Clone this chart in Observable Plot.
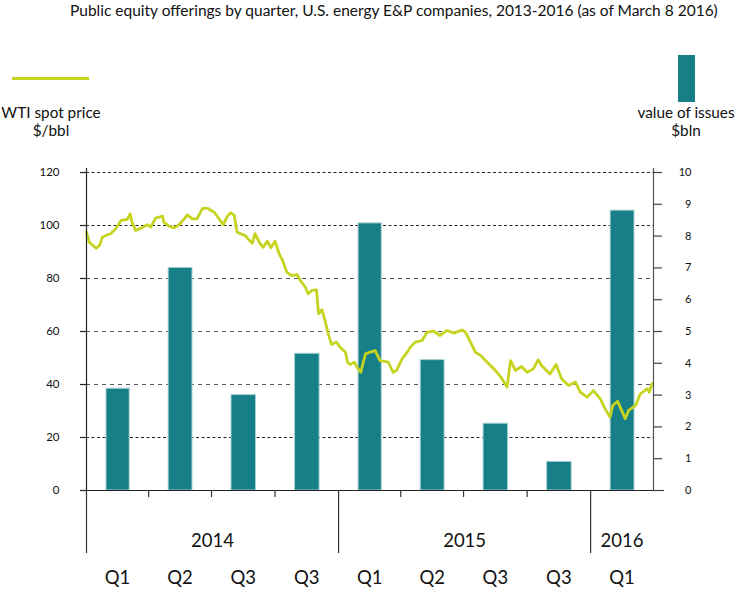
<!DOCTYPE html>
<html>
<head>
<meta charset="utf-8">
<script src="https://cdn.jsdelivr.net/npm/d3@7"></script>
<script src="https://cdn.jsdelivr.net/npm/@observablehq/plot@0.6"></script>
<style>
  html, body { margin: 0; padding: 0; background: #fff; }
  #wrap { position: relative; width: 736px; height: 593px; font-family: Lato, "Open Sans", sans-serif; color: #111; }
  #wrap svg { position: absolute; left: 0; top: 0; }
  .ov { position: absolute; white-space: nowrap; line-height: 1; }
  .title { left: 70px; top: 3px; font-size: 15.5px; }
  .lgtext { font-size: 15.3px; text-align: center; }
  .swline { position: absolute; left: 12px; top: 77px; width: 77px; height: 3px; background: #c6d41f; }
  .swbar { position: absolute; left: 678px; top: 55px; width: 17px; height: 47px; background: #177f87; }
</style>
</head>
<body>
<div id="wrap">
  <div class="ov title">Public equity offerings by quarter, U.S. energy E&amp;P companies, 2013-2016 (as of March 8 2016)</div>
  <div class="swline"></div>
  <div class="ov lgtext" style="left:0px; top:105px; width:102px;">WTI spot price<br><span style="display:inline-block;margin-top:3px">$/bbl</span></div>
  <div class="swbar"></div>
  <div class="ov lgtext" style="left:635px; top:105px; width:102px;">value of issues<br><span style="display:inline-block;margin-top:3px">$bln</span></div>
</div>
<script>
// ---- data ----
const quarterStarts = ["2014-01-01","2014-04-01","2014-07-01","2014-10-01","2015-01-01","2015-04-01","2015-07-01","2015-10-01","2016-01-01"];
const quarterLabels = ["Q1","Q2","Q3","Q3","Q1","Q2","Q3","Q3","Q1"];
const issueValues = [3.2, 7.0, 3.0, 4.3, 8.4, 4.1, 2.1, 0.9, 8.8]; // $bln
const yearLabels = ["2014","2015","2016"];
const yearStarts = ["2014-01-01","2015-01-01","2016-01-01"];
const axisStart = "2014-01-01";
const axisEnd = "2016-04-01";
const leftTicks = [0, 20, 40, 60, 80, 100, 120];
const gridDense = [20, 100, 120];
const gridLight = [40, 60, 80];
const rightTicks = [0, 1, 2, 3, 4, 5, 6, 7, 8, 9, 10];
const wtiDates = [
 "2014-01-01","2014-01-05","2014-01-15","2014-01-20","2014-01-24","2014-01-31","2014-02-05","2014-02-12","2014-02-20","2014-03-01",
 "2014-03-05","2014-03-08","2014-03-13","2014-03-21","2014-03-30","2014-04-04","2014-04-11","2014-04-21","2014-04-23","2014-05-01",
 "2014-05-08","2014-05-15","2014-05-22","2014-05-27","2014-06-03","2014-06-10","2014-06-18","2014-06-25","2014-07-05","2014-07-12",
 "2014-07-18","2014-07-24","2014-07-29","2014-08-03","2014-08-07","2014-08-12","2014-08-19","2014-08-24","2014-08-29","2014-09-02",
 "2014-09-09","2014-09-14","2014-09-20","2014-09-25","2014-10-01","2014-10-07","2014-10-12","2014-10-18","2014-10-25","2014-11-02",
 "2014-11-06","2014-11-14","2014-11-18","2014-11-23","2014-11-30","2014-12-03","2014-12-08","2014-12-13","2014-12-17","2014-12-22",
 "2014-12-29","2015-01-03","2015-01-11","2015-01-14","2015-01-18","2015-01-24","2015-01-28","2015-02-02","2015-02-09","2015-02-16",
 "2015-02-23","2015-03-02","2015-03-14","2015-03-21","2015-03-26","2015-04-03","2015-04-12","2015-04-15","2015-04-22","2015-05-02",
 "2015-05-09","2015-05-19","2015-05-28","2015-06-07","2015-06-17","2015-06-29","2015-07-04","2015-07-11","2015-07-18","2015-07-26",
 "2015-08-04","2015-08-14","2015-08-24","2015-09-02","2015-09-07","2015-09-14","2015-09-23","2015-10-01","2015-10-10","2015-10-17",
 "2015-10-22","2015-11-03","2015-11-12","2015-11-20","2015-11-30","2015-12-10","2015-12-17","2015-12-27","2016-01-05","2016-01-15",
 "2016-01-22","2016-01-29","2016-02-02","2016-02-09","2016-02-14","2016-02-20","2016-02-25","2016-03-06","2016-03-13","2016-03-23",
 "2016-03-26","2016-03-30"
];
const wtiPrices = [
 97.5, 93.7, 91.4, 92.5, 95.6, 96.5, 96.9, 98.7, 101.9, 102.3,
 104.4, 101.2, 98.1, 99.0, 100.3, 99.4, 102.8, 103.5, 101.3, 99.7,
 99.1, 100.3, 102.3, 104.0, 102.5, 102.5, 106.5, 106.5, 105.0, 102.5,
 100.3, 103.5, 104.8, 103.8, 97.5, 96.9, 96.2, 94.6, 93.3, 96.9,
 93.3, 91.8, 94.1, 91.6, 94.1, 89.3, 86.8, 82.4, 81.1, 81.5,
 79.5, 76.7, 74.2, 75.5, 75.7, 66.7, 68.2, 63.5, 59.1, 55.1,
 56.0, 54.1, 52.2, 48.4, 47.5, 48.4, 46.5, 44.6, 51.6, 52.2,
 52.8, 49.0, 48.4, 44.6, 45.3, 49.7, 52.8, 54.1, 56.0, 56.6,
 59.7, 60.1, 58.5, 60.4, 59.4, 60.6, 59.7, 56.0, 52.2, 50.9,
 48.4, 45.9, 42.8, 39.0, 49.0, 45.3, 46.8, 44.6, 45.9, 49.3,
 47.2, 44.0, 47.5, 42.2, 39.6, 40.9, 37.1, 35.2, 37.7, 34.6,
 30.8, 27.7, 32.1, 33.7, 30.8, 27.1, 30.2, 32.1, 36.5, 38.4,
 37.1, 40.3
];

// ---- derived tables ----
const parse = d3.utcParse("%Y-%m-%d");
const t0 = parse(axisStart), t1 = parse(axisEnd);
const RATIO = 12; // right axis 0..10 maps onto left axis 0..120
const quarters = quarterStarts.map((s, i) => {
  const start = parse(s);
  const end = i + 1 < quarterStarts.length ? parse(quarterStarts[i + 1]) : t1;
  return {start, end, mid: new Date((+start + +end) / 2), label: quarterLabels[i], value: issueValues[i]};
});
const years = yearStarts.map((s, i) => {
  const start = parse(s);
  const end = i + 1 < yearStarts.length ? parse(yearStarts[i + 1]) : t1;
  return {start, mid: new Date((+start + +end) / 2), label: yearLabels[i]};
});
const yearSet = new Set(yearStarts);
const minorTicks = quarterStarts.filter(s => !yearSet.has(s)).map(parse);
const wti = wtiDates.map((d, i) => ({date: parse(d), price: wtiPrices[i]}));

const teal = "#177f87";
const lime = "#c6d41f";

const chart = Plot.plot({
  width: 736,
  height: 593,
  marginTop: 172,
  marginBottom: 103,
  marginLeft: 86,
  marginRight: 83,
  x: {type: "utc", domain: [t0, t1], axis: null},
  y: {domain: [0, 120], axis: null},
  style: {fontFamily: "Lato, 'Open Sans', sans-serif", color: "#111", background: "transparent", overflow: "visible"},
  marks: [
    Plot.ruleY(gridDense, {stroke: "#222", strokeDasharray: "3,2.5", strokeWidth: 1}),
    Plot.ruleY(gridLight, {stroke: "#444", strokeDasharray: "4,4", strokeWidth: 0.9}),
    Plot.rectY(quarters, {x1: "start", x2: "end", y1: 0, y2: d => d.value * RATIO, fill: teal, stroke: "#a6cfd2", strokeWidth: 1, insetLeft: 20, insetRight: 19}),
    Plot.line(wti, {x: "date", y: "price", stroke: lime, strokeWidth: 2.8, strokeLinejoin: "round", strokeLinecap: "round"}),
    // baseline
    Plot.ruleY([0], {stroke: "#222", strokeWidth: 1.2, insetLeft: -6, insetRight: -11}),
    // left & right axis lines
    Plot.ruleX([t0], {y1: 120, y2: 0, insetTop: -4, stroke: "#222", strokeWidth: 1.2}),
    Plot.ruleX([t1], {y1: 120, y2: 0, insetTop: -4, stroke: "#555", strokeWidth: 1.2}),
    // year dividers and quarter ticks
    Plot.ruleX(years, {x: "start", y1: 0, y2: 0, insetBottom: -63, stroke: "#333", strokeWidth: 1.2}),
    Plot.ruleX(minorTicks, {y1: 0, y2: 0, insetBottom: -7, stroke: "#333", strokeWidth: 1.2}),
    // left ticks & labels
    Plot.ruleY(leftTicks, {x1: () => t0, x2: () => t0, insetLeft: -6, stroke: "#222", strokeWidth: 1.2}),
    Plot.text(leftTicks, {x: () => t0, y: d => d, text: d => String(d), dx: -27, textAnchor: "end", fontSize: 11.5, fill: "#111"}),
    // right ticks & labels
    Plot.ruleY(rightTicks, {y: d => d * RATIO, x1: () => t1, x2: () => t1, insetRight: -9, stroke: "#444", strokeWidth: 1.2}),
    Plot.text(rightTicks, {x: () => t1, y: d => d * RATIO, text: d => String(d), dx: 38, textAnchor: "end", fontSize: 11, fill: "#111"}),
    // category labels
    Plot.text(years, {x: "mid", y: () => 0, text: "label", dy: 51, fontSize: 18.5, fill: "#111"}),
    Plot.text(quarters, {x: "mid", y: () => 0, text: "label", dy: 88, fontSize: 18.5, fill: "#111"})
  ]
});
document.getElementById("wrap").prepend(chart);
</script>
</body>
</html>
